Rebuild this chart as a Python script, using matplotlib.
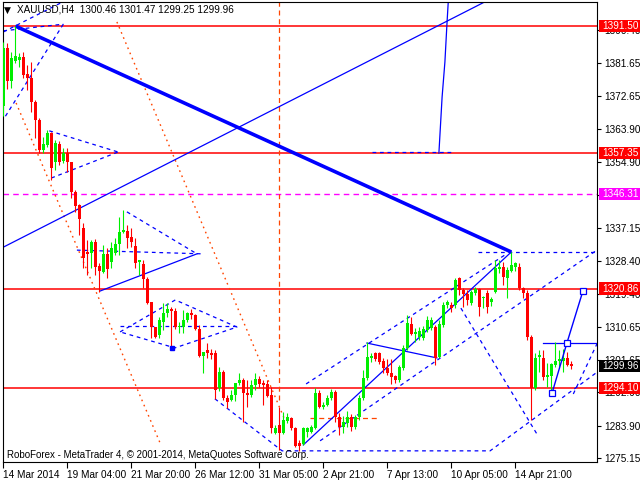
import matplotlib
matplotlib.use("Agg")
import matplotlib.pyplot as plt
from matplotlib.patches import Rectangle
from matplotlib.transforms import blended_transform_factory

plt.rcParams['font.family'] = ['Liberation Sans', 'DejaVu Sans']

# ---------------- data (XAUUSD H4 candles) ----------------
opens = [
1370.0, 1385.5, 1376.7, 1382.0, 1382.3, 1383.2, 1378.5, 1377.5, 1371.0, 1366.2,
1358.2, 1359.5, 1362.7, 1354.9, 1359.8, 1355.2, 1357.3, 1354.9, 1346.8, 1343.3,
1337.2, 1330.7, 1330.4, 1333.4, 1326.9, 1325.3, 1330.2, 1328.0, 1330.4, 1332.9,
1336.1, 1336.4, 1334.8, 1332.3, 1328.0, 1327.5, 1323.5, 1317.3, 1310.5, 1308.4,
1311.9, 1314.3, 1315.4, 1314.8, 1310.5, 1310.5, 1312.4, 1314.3, 1313.8, 1310.0,
1302.7, 1304.3, 1303.5, 1303.5, 1294.1, 1298.4, 1291.4, 1290.9, 1292.2, 1295.5,
1296.3, 1292.8, 1292.2, 1294.9, 1296.6, 1295.5, 1295.2, 1292.2, 1282.0, 1284.2,
1282.0, 1285.3, 1286.0, 1283.4, 1279.3, 1279.0, 1282.3, 1282.3, 1283.4, 1292.8,
1289.0, 1289.5, 1291.4, 1293.0, 1286.3, 1283.6, 1284.7, 1286.3, 1283.6, 1286.3,
1291.4, 1296.8, 1302.2, 1303.5, 1303.5, 1301.4, 1299.5, 1298.2, 1297.4, 1296.3,
1299.5, 1304.9, 1311.4, 1308.6, 1307.8, 1307.6, 1309.7, 1310.3, 1310.5, 1302.4,
1311.1, 1316.5, 1316.5, 1316.5, 1323.7, 1320.5, 1319.4, 1316.9, 1319.7, 1320.8,
1318.2, 1319.7, 1317.3, 1319.9, 1326.1, 1326.6, 1323.7, 1325.6, 1326.7, 1326.7,
1321.0, 1319.7, 1307.8, 1294.1, 1302.4, 1302.2, 1297.1, 1297.4, 1300.3, 1301.4,
1301.4, 1302.2, 1300.46]

closes = [
1385.6, 1376.7, 1383.0, 1383.5, 1383.2, 1378.3, 1377.5, 1371.0, 1366.2, 1358.2,
1359.8, 1362.7, 1353.3, 1360.0, 1354.9, 1357.3, 1354.9, 1346.8, 1343.1, 1339.6,
1329.1, 1330.2, 1333.4, 1326.7, 1325.6, 1330.2, 1326.1, 1331.8, 1332.9, 1336.1,
1336.6, 1334.5, 1333.4, 1327.8, 1328.5, 1323.5, 1317.0, 1310.5, 1307.8, 1312.4,
1314.3, 1315.4, 1314.8, 1310.5, 1310.8, 1312.4, 1314.3, 1313.8, 1310.0, 1302.7,
1303.8, 1303.5, 1303.0, 1293.6, 1298.4, 1291.4, 1290.4, 1292.2, 1295.5, 1296.3,
1292.8, 1292.2, 1294.9, 1296.6, 1295.2, 1295.0, 1292.0, 1283.4, 1283.4, 1282.0,
1285.5, 1286.3, 1283.4, 1278.5, 1278.5, 1283.4, 1283.4, 1283.6, 1292.8, 1289.0,
1289.5, 1291.4, 1293.0, 1286.3, 1283.6, 1285.0, 1286.3, 1283.6, 1286.3, 1291.4,
1296.8, 1302.4, 1302.7, 1301.9, 1301.1, 1299.5, 1298.2, 1297.1, 1296.3, 1299.8,
1304.9, 1311.6, 1308.6, 1309.2, 1309.4, 1310.0, 1312.4, 1312.4, 1302.2, 1311.4,
1316.5, 1317.3, 1315.7, 1323.2, 1320.5, 1319.4, 1317.8, 1319.9, 1320.8, 1315.9,
1318.4, 1315.9, 1318.1, 1326.4, 1326.6, 1324.0, 1325.9, 1327.2, 1327.8, 1321.0,
1319.7, 1307.8, 1294.1, 1302.2, 1302.9, 1297.1, 1297.6, 1300.6, 1301.4, 1301.9,
1302.2, 1300.3, 1299.96]

highs = [
1387.2, 1387.0, 1384.5, 1391.5, 1384.2, 1384.5, 1381.0, 1381.8, 1371.6, 1366.8,
1361.7, 1363.5, 1363.0, 1360.8, 1360.6, 1358.7, 1358.7, 1354.9, 1347.4, 1343.6,
1338.5, 1333.9, 1333.9, 1334.2, 1327.8, 1332.6, 1331.8, 1333.4, 1334.5, 1340.1,
1342.0, 1338.0, 1337.2, 1334.5, 1328.6, 1328.6, 1324.0, 1317.3, 1310.5, 1313.2,
1317.0, 1317.0, 1315.9, 1315.6, 1311.9, 1315.1, 1314.6, 1315.4, 1314.0, 1311.1,
1303.8, 1306.2, 1304.6, 1304.3, 1299.8, 1299.0, 1292.2, 1293.6, 1295.5, 1298.2,
1296.8, 1296.3, 1296.3, 1298.2, 1297.4, 1296.3, 1296.3, 1294.4, 1284.2, 1289.0,
1287.7, 1287.4, 1286.3, 1283.6, 1280.1, 1283.6, 1283.6, 1284.2, 1294.1, 1293.6,
1290.4, 1292.2, 1293.8, 1293.6, 1287.4, 1286.6, 1288.0, 1287.2, 1286.9, 1292.2,
1298.9, 1306.5, 1303.5, 1303.8, 1303.8, 1302.2, 1301.9, 1301.9, 1297.6, 1300.3,
1305.7, 1313.8, 1313.2, 1310.3, 1310.5, 1310.8, 1313.5, 1313.2, 1311.1, 1312.4,
1317.3, 1317.8, 1317.3, 1323.7, 1324.0, 1321.0, 1320.5, 1320.5, 1321.3, 1321.0,
1318.9, 1320.5, 1318.6, 1328.5, 1328.5, 1328.0, 1326.7, 1330.7, 1328.0, 1327.8,
1321.3, 1320.5, 1308.4, 1303.5, 1304.3, 1304.3, 1300.8, 1300.8, 1306.5, 1304.3,
1304.6, 1303.8, 1301.47]

lows = [
1367.3, 1374.5, 1374.8, 1381.5, 1380.5, 1377.5, 1374.3, 1368.4, 1361.4, 1357.3,
1357.3, 1359.0, 1350.1, 1352.8, 1354.1, 1354.6, 1352.2, 1345.2, 1341.5, 1335.3,
1326.4, 1324.5, 1326.4, 1324.5, 1319.9, 1325.1, 1323.7, 1326.4, 1329.9, 1329.9,
1335.8, 1331.8, 1332.1, 1326.4, 1324.5, 1321.0, 1316.7, 1307.6, 1307.6, 1307.6,
1309.7, 1313.2, 1305.2, 1310.0, 1309.0, 1308.9, 1311.9, 1312.7, 1309.7, 1302.5,
1298.2, 1302.2, 1301.9, 1291.2, 1293.3, 1290.9, 1288.7, 1290.6, 1290.6, 1294.9,
1285.0, 1289.0, 1291.7, 1293.6, 1294.4, 1289.5, 1291.7, 1282.0, 1281.7, 1277.4,
1281.7, 1284.7, 1282.8, 1278.3, 1277.2, 1278.8, 1281.0, 1282.0, 1283.1, 1288.7,
1288.5, 1289.3, 1290.9, 1284.9, 1281.5, 1282.0, 1283.6, 1282.6, 1283.1, 1285.5,
1290.9, 1296.3, 1301.1, 1301.4, 1300.6, 1298.2, 1297.6, 1295.2, 1295.5, 1295.8,
1298.9, 1304.3, 1308.4, 1306.5, 1307.0, 1307.0, 1309.2, 1309.7, 1300.3, 1302.2,
1310.5, 1315.7, 1314.6, 1315.7, 1319.1, 1315.9, 1316.5, 1316.5, 1319.1, 1313.5,
1315.5, 1314.3, 1316.2, 1319.7, 1325.1, 1321.8, 1318.4, 1325.3, 1325.6, 1320.5,
1318.4, 1307.0, 1285.5, 1293.6, 1298.4, 1296.3, 1294.4, 1292.8, 1299.8, 1299.5,
1298.4, 1300.0, 1299.25]

date_tick_bars = [0, 16, 32, 48, 64, 80, 96, 112, 128]
date_tick_labels = ["14 Mar 2014", "19 Mar 04:00", "21 Mar 20:00", "26 Mar 12:00",
                    "31 Mar 05:00", "2 Apr 21:00", "7 Apr 13:00", "10 Apr 05:00",
                    "14 Apr 21:00"]
price_ticks = [1390.40, 1381.65, 1372.65, 1363.90, 1354.90, 1346.15, 1337.15,
               1328.40, 1319.40, 1310.65, 1301.65, 1292.90, 1283.90, 1275.15]
# tick labels that the price boxes cover completely in the reference
hidden_tick_labels = [1346.15]

red_levels = [1391.50, 1357.35, 1320.86, 1294.10]
magenta_level = 1346.31
last_price = 1299.96

# analysis drawings: (bar index, price) vertices
thick_trend = [(3, 1391.5), (127, 1330.7)]
thin_solid = [
    [(0, 1332.0), (119.3, 1397.4), (122, 1398.9)],
    [(24.2, 1320.2), (48.4, 1330.2)],
    [(75, 1278.8), (127, 1330.7)],
    [(90.9, 1306.2), (108.4, 1302.2)],
    [(108.9, 1357.3), (109.7, 1372.4), (110.4, 1381.8), (110.9, 1391.8), (111.4, 1401.0)],
    [(134.9, 1306.2), (150, 1306.2)],
]
forecast_path = [(137.2, 1292.8), (140.9, 1306.2), (144.9, 1320.2)]
dashed_blue = [
    [(0, 1390.2), (15, 1392.0)],
    [(15, 1392.0), (0.4, 1367.0)],
    [(0, 1389.9), (16, 1398.6)],
    [(11.5, 1363.3), (28.7, 1357.6)],
    [(12, 1350.6), (28.7, 1357.6)],
    [(30.9, 1341.5), (48.4, 1330.2)],
    [(18.4, 1331.2), (49.9, 1330.2)],
    [(29.2, 1309.2), (43, 1317.8), (58.4, 1310.5), (42.9, 1304.9), (29.2, 1309.2)],
    [(29.2, 1310.8), (58.4, 1310.8)],
    [(52.9, 1291.2), (69.7, 1277.2), (121.7, 1277.2), (150, 1299.6)],
    [(75.7, 1295.2), (125.4, 1329.9)],
    [(118.7, 1330.7), (150, 1330.7)],
    [(79.2, 1279.9), (150, 1332.4)],
    [(114.4, 1315.6), (133.7, 1281.2)],
    [(92.2, 1357.5), (112.2, 1357.5)],
    [(142.5, 1292.5), (150, 1309.6)],
]
orange_dotted = [
    [(28.4, 1392.6), (70.4, 1285.5)],
    [(3.2, 1370.8), (39.2, 1279.3)],
]
orange_vline_bar = 68.9
orange_vline_low = 1290.9
orange_hdash = [(76.7, 1286.0), (94.2, 1286.0)]

# ---------------- figure ----------------
W, H = 640, 480
fig = plt.figure(figsize=(W / 100, H / 100), dpi=100)
fig.patch.set_facecolor('white')
L, R, T, B = 3, 597, 2, 462
ax = fig.add_axes([L / W, 1 - B / H, (R - L) / W, (B - T) / H])
ax.set_xlim(-0.075, 148.425)
ax.set_ylim(1274.20, 1397.96)

BLUE = '#0000ff'
ORANGE = '#ff4500'
BULL = '#00ee00'
BEAR = '#ff0000'

# horizontal levels
for lv in red_levels:
    ax.axhline(lv, color='#ff0000', lw=1.1, zorder=1)
ax.axhline(magenta_level, color='#ff00ff', lw=1.0, ls=(0, (4, 3)), zorder=1)

# orange drawings
for seg in orange_dotted:
    xs, ys = zip(*seg)
    ax.plot(xs, ys, color=ORANGE, lw=1.0, ls=(0, (1.2, 2.8)), zorder=1)
ax.plot([orange_vline_bar, orange_vline_bar], [orange_vline_low, 1400], color=ORANGE,
        lw=0.9, ls=(0, (4, 3)), zorder=1)
xs, ys = zip(*orange_hdash)
ax.plot(xs, ys, color=ORANGE, lw=0.9, ls=(0, (4, 3)), zorder=1)

# blue drawings
for seg in dashed_blue:
    xs, ys = zip(*seg)
    ax.plot(xs, ys, color=BLUE, lw=0.9, ls=(0, (3, 3)), zorder=1)
for seg in thin_solid:
    xs, ys = zip(*seg)
    ax.plot(xs, ys, color=BLUE, lw=0.9, zorder=1)
xs, ys = zip(*thick_trend)
ax.plot(xs, ys, color=BLUE, lw=2.6, zorder=1, solid_capstyle='butt')
xs, ys = zip(*forecast_path)
ax.plot(xs, ys, color=BLUE, lw=1.0, zorder=4)
ax.plot(xs, ys, ls='none', marker='s', ms=4, mfc='white', mec=BLUE, mew=0.9, zorder=5)
ax.plot([42.2], [1304.9], ls='none', marker='s', ms=2.5, color=BLUE, zorder=5)

# candles
n = len(opens)
idx = list(range(n))
colors = [BULL if closes[i] >= opens[i] else BEAR for i in idx]
ax.vlines(idx, lows, highs, colors=colors, lw=0.8, zorder=3)
bottoms = [min(opens[i], closes[i]) for i in idx]
heights = [max(abs(closes[i] - opens[i]), 0.3) for i in idx]
ax.bar(idx, heights, bottom=bottoms, width=0.72, color=colors, lw=0, zorder=3)

# axes styling
for s in ax.spines.values():
    s.set_color('black')
    s.set_linewidth(0.8)
ax.yaxis.tick_right()
ax.set_yticks(price_ticks, ["" if v in hidden_tick_labels else f"{v:.2f}" for v in price_ticks])
ax.set_xticks(date_tick_bars, date_tick_labels)
ax.tick_params(axis='y', direction='out', length=3, width=0.8, pad=2.5, labelsize=7.2)
ax.tick_params(axis='x', direction='out', length=4, width=0.8, pad=2, labelsize=7.2)
for t in ax.get_xticklabels():
    t.set_horizontalalignment('left')

# price label boxes on the right scale
btr = blended_transform_factory(fig.transFigure, ax.transData)
half = 6.2 / 3.717
boxes = [(lv, '#ff0000') for lv in red_levels] + [(magenta_level, '#ff00ff'), (last_price, '#000000')]
for lv, col in boxes:
    ax.add_patch(Rectangle((599 / W, lv - half), 41 / W, 2 * half, transform=btr,
                           facecolor=col, edgecolor='none', clip_on=False, zorder=10))
    ax.text(602 / W, lv, f"{lv:.2f}", transform=btr, color='white', fontsize=7.2,
            va='center', ha='left', clip_on=False, zorder=11)

# header and copyright
fig.text(4 / W, 1 - 10 / H, "\u25bc", fontsize=6.5, va='center', ha='left', family='DejaVu Sans')
fig.text(17 / W, 1 - 10 / H, "XAUUSD,H4  1300.46 1301.47 1299.25 1299.96", fontsize=7.2,
         va='center', ha='left')
fig.text(7 / W, 1 - 455 / H, "RoboForex - MetaTrader 4, \u00a9 2001-2014, MetaQuotes Software Corp.",
         fontsize=7.0, va='center', ha='left')

fig.savefig("out.png", dpi=100)
